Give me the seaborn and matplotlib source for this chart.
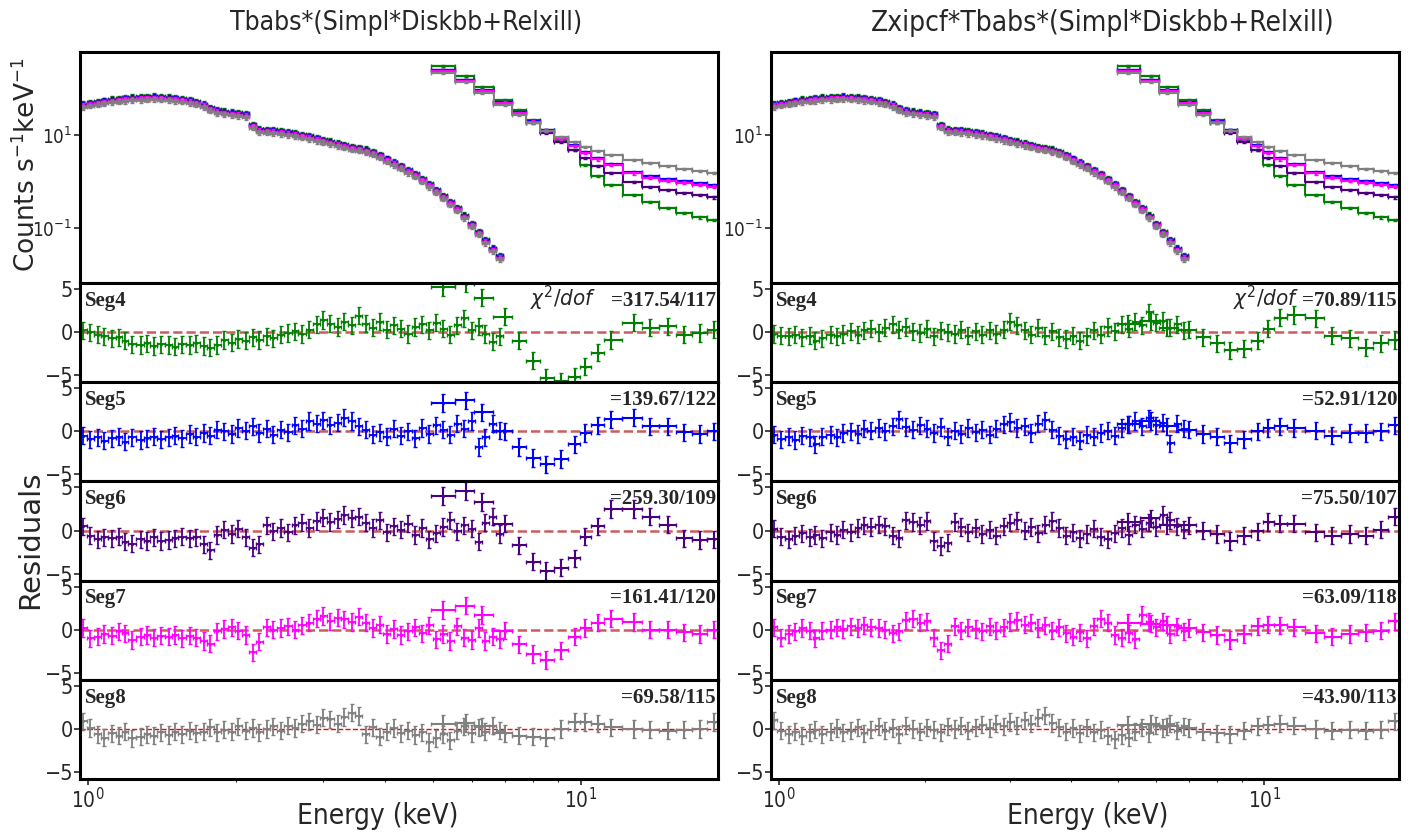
import numpy as np
import matplotlib
matplotlib.use("Agg")
import matplotlib.pyplot as plt
import seaborn as sns
from matplotlib import font_manager

# ---- data ----
segs = ["Seg4", "Seg5", "Seg6", "Seg7", "Seg8"]
colors = ["green", "blue", "indigo", "magenta", "gray"]
titles = ["Tbabs*(Simpl*Diskbb+Relxill)", "Zxipcf*Tbabs*(Simpl*Diskbb+Relxill)"]
chi_left = ["317.54/117", "139.67/122", "259.30/109", "161.41/120", "69.58/115"]
chi_right = ["70.89/115", "52.91/120", "75.50/107", "63.09/118", "43.90/113"]

# soft band energies (keV)
e_low = [0.98, 1.01, 1.05, 1.08, 1.12, 1.16, 1.19, 1.23, 1.28, 1.32,
         1.36, 1.41, 1.46, 1.50, 1.55, 1.61, 1.66, 1.72, 1.77, 1.83,
         1.89, 1.96, 2.02, 2.09, 2.16, 2.23, 2.31, 2.38, 2.46, 2.55,
         2.63, 2.72, 2.81, 2.91, 3.00, 3.10, 3.21, 3.31, 3.43, 3.54,
         3.66, 3.78, 3.91, 4.04, 4.17, 4.31, 4.46, 4.61, 4.76, 4.92,
         5.09, 5.26, 5.43, 5.61, 5.80, 6.00, 6.20, 6.40, 6.62, 6.84]
# hard band energies (keV)
e_high = [5.25, 5.85, 6.3, 7.0, 7.5, 8.0, 8.5, 9.1, 9.7, 10.2,
          10.8, 11.5, 12.8, 13.8, 15.0, 16.2, 17.4, 18.6]

# soft band count rate (counts/s/keV) and per-segment normalisation
rate_low = [44, 47, 50, 53, 56, 58, 60, 62, 63, 64.5,
            65, 64, 62, 60, 58, 54, 50, 44, 37, 33,
            31, 29.5, 28.5, 27, 16, 12.8, 12.5, 12.2, 11.7, 11.1,
            10.5, 9.8, 9.1, 8.3, 7.6, 7.0, 6.4, 5.9, 5.4, 5.1,
            4.7, 4.2, 3.6, 3.0, 2.5, 2.1, 1.7, 1.4, 1.1, 0.85,
            0.64, 0.48, 0.35, 0.26, 0.18, 0.12, 0.08, 0.053, 0.035, 0.024]
low_norm = [1.08, 1.03, 1.0, 0.97, 0.9]

# hard band count rate per segment
hi_seg4 = [303, 186, 108, 56, 35, 21, 12.8, 7.8, 4.8, 2.26, 1.31, 0.84, 0.51, 0.36, 0.27, 0.21, 0.17, 0.15]
hi_seg5 = [251, 152, 93, 51, 31, 20, 12.8, 8.6, 6.1, 4.3, 3.2, 2.4, 1.6, 1.31, 1.13, 1.03, 0.93, 0.84]
hi_seg6 = [251, 152, 88, 49, 29.6, 18, 11, 7.1, 4.8, 3.2, 2.15, 1.52, 0.98, 0.76, 0.66, 0.57, 0.51, 0.46]
hi_seg7 = [240, 145, 90, 50, 30, 19.5, 12.5, 8.3, 5.8, 4.1, 3.0, 2.25, 1.5, 1.22, 1.05, 0.95, 0.86, 0.78]
hi_seg8 = [215, 138, 80, 44, 27, 18, 12.2, 9.1, 7.1, 5.5, 4.5, 3.7, 2.9, 2.5, 2.15, 1.86, 1.68, 1.52]

# residuals, model 1 (left column)
resA_low_seg4 = [0.2, 0.0, -0.3, -0.5, -0.7, -0.6, -1.0, -1.4, -1.5, -1.3, -1.6, -1.4, -1.5, -1.7, -1.4,
                 -1.5, -1.3, -1.6, -1.8, -1.5, -0.9, -1.2, -0.8, -1.0, -0.6, -0.9, -0.5, -0.7, -0.3, -0.1,
                 0.1, -0.2, 0.3, 0.9, 1.4, 1.0, 0.6, 1.2, 0.8, 1.9, 1.0, 0.5, 1.2, 0.3, 0.8,
                 0.4, -0.2, 0.6, 0.9, 0.2, 1.1, 0.4, -0.3, 0.8, 1.6, 0.2, 0.7, -0.2, -1.1, -0.5]
resA_low_seg5 = [-0.5, -0.9, -0.7, -1.1, -0.8, -0.6, -1.2, -0.7, -1.0, -0.8, -0.6, -0.9, -0.7, -0.5, -0.8,
                 -0.3, -0.6, -0.2, -0.5, 0.2, 0.0, -0.3, 0.4, 0.1, 0.6, -0.2, 0.3, -0.4, 0.2, -0.1,
                 0.7, 0.3, 1.2, 0.9, 1.3, 0.7, 1.0, 1.6, 1.2, 0.6, 0.2, -0.4, -0.1, -0.6, 0.3,
                 -0.5, 0.0, -0.8, 0.4, -0.3, 0.7, 0.2, -0.4, 0.9, 0.3, 1.2, -1.8, -0.7, 0.9, 0.1]
resA_low_seg6 = [0.5, -0.6, -1.0, -0.8, -0.9, -0.7, -1.3, -1.5, -1.0, -1.2, -0.8, -1.2, -1.1, -0.9, -0.7,
                 -0.9, -0.8, -1.6, -2.3, -0.5, 0.1, -0.4, 0.2, -0.8, -2.0, -1.6, 0.6, -0.1, 0.3, -0.2,
                 0.6, 0.9, 0.3, 1.1, 1.5, 1.0, 1.3, 1.8, 1.4, 1.6, 0.9, 0.3, 1.2, -0.2, 0.5,
                 0.1, 0.8, -0.5, 0.3, -1.0, -0.3, 0.4, 1.2, -0.1, 0.6, 0.2, -1.3, 0.9, 1.6, -0.4]
resA_low_seg7 = [0.2, -1.0, -0.8, -0.5, -0.7, -0.2, -0.4, -1.2, -0.8, -0.6, -0.9, -0.7, -0.8, -0.6, -1.0,
                 -0.7, -0.9, -1.3, -1.6, -0.2, 0.1, 0.3, -0.1, -0.6, -2.6, -1.4, 0.3, 0.0, 0.2, 0.4,
                 0.0, 0.5, 0.8, 1.3, 1.6, 1.0, 1.4, 1.2, 0.9, 1.5, 0.8, 0.2, 0.6, -0.5, 0.1,
                 -0.6, -0.2, 0.3, -0.4, 0.5, -1.1, -0.5, -1.3, 0.4, -0.9, -1.2, 0.2, -1.3, -0.8, -1.1]
resA_low_seg8 = [0.9, 0.1, -0.6, -1.0, -0.5, -0.8, -0.3, -1.1, -0.9, -0.6, -0.8, -0.4, -0.7, -0.3, -0.6,
                 -0.2, -0.5, -0.3, 0.2, -0.4, -0.1, -0.3, 0.3, -0.2, 0.1, -0.4, 0.0, 0.3, -0.2, 0.4,
                 0.1, 0.6, 0.9, 0.5, 1.3, 1.1, 0.6, 1.4, 1.9, 1.5, -0.6, 0.2, -0.9, -0.3, 0.1,
                 -0.5, -0.2, -0.7, -0.4, -1.5, -1.1, -0.6, -1.3, -0.2, 0.3, -0.5, 0.2, -0.3, 0.4, -0.2]
resA_high_seg4 = [5.2, 5.6, 4.0, 1.8, -1.0, -3.3, -5.3, -5.7, -5.2, -4.0, -2.4, -0.9, 1.1, 0.5, 0.7, -0.3, -0.1, 0.3]
resA_high_seg5 = [3.3, 3.6, 2.2, 0.0, -1.8, -3.1, -3.8, -3.2, -1.5, -0.2, 0.7, 1.4, 1.6, 0.6, 0.6, -0.1, -0.3, 0.0]
resA_high_seg6 = [4.0, 4.6, 3.3, 0.8, -1.7, -3.6, -4.7, -4.3, -3.2, -0.7, 0.5, 2.5, 2.5, 1.6, 0.7, -0.9, -1.1, -1.0]
resA_high_seg7 = [2.3, 2.8, 1.7, -0.1, -1.7, -2.8, -3.5, -2.4, -0.8, 0.2, 0.8, 1.3, 0.9, 0.0, 0.0, -0.3, -0.5, 0.0]
resA_high_seg8 = [0.6, 0.7, 0.3, -0.5, -0.8, -0.9, -1.0, 0.0, 0.8, 0.8, 0.6, 0.2, 0.0, -0.1, -0.2, -0.1, 0.0, 0.8]

# residuals, model 2 (right column)
resB_low_seg4 = [-0.2, -0.4, -0.5, -0.3, -0.6, -0.4, -1.0, -0.7, -0.3, -0.5, -0.2, 0.1, -0.3, 0.2, 0.4,
                 0.0, 0.5, 0.9, 0.3, 0.6, 0.1, -0.1, 0.4, -0.5, 0.2, 0.0, -0.2, 0.3, -0.4, 0.1,
                 -0.3, 0.2, -0.2, 0.3, 1.2, 0.8, 0.2, -0.3, 0.5, -0.4, 0.1, -0.6, -0.8, -0.4, -1.0,
                 -0.5, 0.2, -0.3, 0.6, 0.1, 0.9, 0.4, 1.2, 0.8, 2.3, 1.1, 1.3, 0.5, 0.9, 0.2]
resB_low_seg5 = [-0.4, -0.9, -0.6, -1.0, -0.5, -0.7, -1.5, -0.6, -0.4, -0.7, -0.2, 0.0, -0.3, 0.3, 0.1,
                 0.4, 0.0, 0.6, 1.4, 0.5, 0.2, 0.7, 0.3, -0.2, 0.5, -0.6, 0.1, -0.3, 0.4, -0.1,
                 0.2, -0.4, 0.3, 0.8, 1.1, 0.4, 0.6, -0.2, 0.9, 1.3, 0.2, -0.5, -0.9, -0.6, -1.1,
                 -0.4, -0.6, -0.2, 0.1, -0.5, 0.4, 0.8, 1.2, 0.6, 1.5, 0.7, 1.0, -1.4, 0.9, 0.3]
resB_low_seg6 = [0.2, -0.7, -1.0, -0.6, -0.3, -0.8, -0.5, -0.9, -0.2, -0.5, 0.1, -0.2, 0.3, 0.6, 0.4,
                 0.7, 0.5, -0.6, -0.9, 1.2, 1.0, 0.6, 1.1, -1.2, -1.8, -1.4, 1.0, 0.4, -0.2, 0.3,
                 -0.4, 0.1, -0.6, 0.5, 0.9, 1.2, 0.0, 0.4, -0.3, 0.7, 1.1, 0.3, -0.6, -0.2, -0.9,
                 -0.4, 0.2, -0.7, -1.0, -0.3, 0.3, -0.5, 0.7, 0.2, 0.9, 0.4, 1.8, 1.2, 0.5, 0.1]
resB_low_seg7 = [0.3, -0.9, -0.5, -0.2, 0.2, -0.1, -1.0, -0.1, 0.0, 0.3, 0.1, 0.4, 0.2, 0.5, 0.3,
                 0.2, 0.0, -0.4, -0.2, 1.1, 1.3, 0.8, 1.0, -0.9, -2.4, -1.6, 0.4, -0.1, 0.3, 0.1,
                 -0.2, 0.4, -0.1, 0.3, 0.9, 1.1, 0.6, 0.8, 0.2, 0.5, -0.1, 0.3, -0.4, -0.8, -0.3,
                 -1.0, 0.4, 1.3, 0.8, -0.6, -0.9, -0.4, -1.1, 1.7, 0.9, 0.3, 1.0, -0.5, 0.4, -0.2]
resB_low_seg8 = [1.0, -0.2, -0.6, -0.3, -0.8, -0.4, -0.1, -0.6, -0.3, 0.1, -0.4, -0.2, 0.2, -0.5, -0.1,
                 0.3, -0.2, 0.1, -0.6, 0.4, 0.0, -0.3, 0.2, -0.1, -0.4, 0.3, 0.0, 0.4, -0.2, 0.2,
                 0.5, 0.1, 0.6, 0.3, 0.8, 0.4, 1.0, 0.6, 1.3, 1.6, 0.7, 0.2, -0.3, 0.1, -0.5,
                 0.2, -0.4, -0.1, -0.8, -1.2, -0.7, -1.0, -0.3, 0.2, -0.5, 0.4, 0.1, 0.6, -0.2, 0.3]
resB_high_seg4 = [1.0, 1.3, 0.5, 0.3, -0.6, -1.3, -2.1, -1.9, -1.0, 0.4, 1.7, 2.0, 1.6, -0.4, -0.7, -1.8, -1.3, -0.9]
resB_high_seg5 = [0.8, 1.2, 0.6, 0.2, -0.3, -0.6, -1.4, -0.9, 0.0, 0.4, 0.6, 0.4, 0.1, -0.5, -0.2, -0.2, 0.0, 0.7]
resB_high_seg6 = [1.0, 1.4, 0.6, 0.6, 0.0, -0.4, -1.2, -0.6, -0.1, 1.0, 0.8, 0.8, -0.2, -0.6, -0.4, -0.6, 0.1, 1.6]
resB_high_seg7 = [0.8, 0.7, 0.6, 0.2, -0.3, -0.6, -1.2, -0.5, 0.4, 0.6, 0.5, 0.3, -0.4, -0.8, -0.5, -0.3, -0.1, 1.0]
resB_high_seg8 = [0.5, 0.6, 0.3, 0.1, -0.3, -0.5, -0.6, -0.2, 0.3, 0.5, 0.6, 0.4, 0.0, -0.2, -0.1, -0.2, -0.1, 0.9]

hi_rates = [hi_seg4, hi_seg5, hi_seg6, hi_seg7, hi_seg8]
res_low = [[resA_low_seg4, resA_low_seg5, resA_low_seg6, resA_low_seg7, resA_low_seg8],
           [resB_low_seg4, resB_low_seg5, resB_low_seg6, resB_low_seg7, resB_low_seg8]]
res_high = [[resA_high_seg4, resA_high_seg5, resA_high_seg6, resA_high_seg7, resA_high_seg8],
            [resB_high_seg4, resB_high_seg5, resB_high_seg6, resB_high_seg7, resB_high_seg8]]
chis = [chi_left, chi_right]

# ---- style ----
sns.set_style("ticks")


def find_face(keys):
    # first regular sans face whose file name holds one of the keys
    for key in keys:
        for f in font_manager.fontManager.ttflist:
            fn = f.fname.split("/")[-1]
            if key in fn and f.style == "normal" and f.weight in (400, "normal", "regular") \
                    and "Serif" not in fn and "Mono" not in fn:
                return f
    return None


cond = find_face(["LiberationSansNarrow-Regular", "DejaVuSansCondensed.", "NotoSans-Condensed.",
                  "NotoSans-SemiCondensed.", "Narrow", "Condensed"])
xcond = find_face(["NotoSans-ExtraCondensed.", "LiberationSansNarrow-Regular",
                   "NotoSans-Condensed.", "DejaVuSansCondensed.", "Narrow", "Condensed"])

if cond is not None:
    nfam, nstretch = cond.name, cond.stretch
else:
    nfam, nstretch = "Liberation Sans", "normal"
big_fp = font_manager.FontProperties(fname=xcond.fname) if xcond is not None else \
    font_manager.FontProperties(family="Liberation Sans")

plt.rcParams["font.family"] = [nfam, "DejaVu Sans"]
plt.rcParams["font.stretch"] = nstretch
plt.rcParams["mathtext.fontset"] = "custom"
plt.rcParams["mathtext.rm"] = f"{nfam}:stretch={nstretch}"
plt.rcParams["mathtext.it"] = f"{nfam}:italic:stretch={nstretch}"
plt.rcParams["mathtext.bf"] = f"{nfam}:bold:stretch={nstretch}"
plt.rcParams["axes.linewidth"] = 2.2
plt.rcParams["axes.edgecolor"] = "black"


def half_widths(e):
    le = np.log10(e)
    mid = (le[1:] + le[:-1]) / 2
    lo = np.r_[2 * le[0] - mid[0], mid]
    hi = np.r_[mid, 2 * le[-1] - mid[-1]]
    return np.vstack([e - 10 ** lo, 10 ** hi - e])


elo = np.array(e_low)
ehi = np.array(e_high)
xerr_lo = half_widths(elo)
xerr_hi = half_widths(ehi)

W, H = 1421, 838
fig = plt.figure(figsize=(W / 100, H / 100), dpi=100)
cols = [(80, 638), (771, 628)]
xlim = (0.965, 18.95)
top_px, spec_bot, res_px = 52, 283, 99.2

fitted = []  # (text, target width px)

for c, (x0, w) in enumerate(cols):
    ax = fig.add_axes([x0 / W, 1 - spec_bot / H, w / W, (spec_bot - top_px) / H])
    for k in range(5):
        low = np.array(rate_low) * low_norm[k]
        ax.errorbar(elo, low, xerr=xerr_lo, yerr=0.12 * low, fmt="none",
                    ecolor=colors[k], elinewidth=1.8, capsize=1.5)
        hi = np.array(hi_rates[k])
        ax.errorbar(ehi, hi, xerr=xerr_hi, yerr=0.06 * hi, fmt="none",
                    ecolor=colors[k], elinewidth=1.6, capsize=1.3)
        sns.lineplot(x=ehi, y=hi, drawstyle="steps-mid", color=colors[k],
                     lw=1.4, ax=ax, legend=False)
    ax.set_xscale("log")
    ax.set_yscale("log")
    ax.set_xlim(*xlim)
    ax.set_ylim(0.0066, 610)
    ax.set_yticks([0.1, 10])
    ax.yaxis.set_minor_locator(matplotlib.ticker.NullLocator())
    ax.tick_params(axis="y", labelsize=13.5, length=4, width=1.2, direction="out", pad=2)
    ax.tick_params(axis="x", which="both", labelbottom=False, length=0)

    tx = [406, 1103][c]
    t = fig.text(tx / W, 1 - 23 / H, titles[c], ha="center", va="center",
                 fontproperties=big_fp, fontsize=24)
    fitted.append((t, [355, 465][c]))

    for k in range(5):
        y1 = spec_bot + (k + 1) * res_px
        r = fig.add_axes([x0 / W, 1 - y1 / H, w / W, res_px / H])
        if k == 4:
            r.axhline(0, ls="--", color="red", lw=1.0, zorder=1)
        else:
            r.axhline(0, ls="--", color="indianred", lw=1.8, zorder=1)
        r.errorbar(elo, res_low[c][k], xerr=xerr_lo, yerr=1, fmt=".", ms=2.5,
                   color=colors[k], elinewidth=1.3, capsize=1.5, zorder=2)
        r.errorbar(ehi, res_high[c][k], xerr=xerr_hi, yerr=1, fmt=".", ms=2.5,
                   color=colors[k], elinewidth=1.5, capsize=1.5, zorder=2)
        r.set_xscale("log")
        r.set_xlim(*xlim)
        r.set_ylim(-5.8, 5.7)
        r.set_yticks([-5, 0, 5])
        r.tick_params(axis="y", labelsize=15.5, length=4, width=1.2, pad=1)
        r.text(0.008, 0.77, segs[k], transform=r.transAxes, ha="left", va="baseline",
               family=["Liberation Serif"], fontweight="bold", fontsize=15)
        r.text(0.997, 0.77, "=" + chis[c][k], transform=r.transAxes, ha="right", va="baseline",
               family=["Liberation Serif"], fontweight="bold", fontsize=15)
        if k == 0:
            xc = 0.81 if c == 0 else 0.842
            r.text(xc, 0.77, r"$\chi^{2}/dof$", transform=r.transAxes, ha="right",
                   va="baseline", fontsize=16)
        if k < 4:
            r.tick_params(axis="x", which="both", labelbottom=False, length=0)
        else:
            r.tick_params(axis="x", which="major", labelsize=15, length=4, width=1.2, pad=2)
            r.tick_params(axis="x", which="minor", length=2.5, width=0.8)
            r.xaxis.set_minor_formatter(matplotlib.ticker.NullFormatter())
            ex = [378, 1088][c]
            t = fig.text(ex / W, 1 - 816 / H, "Energy (keV)", ha="center", va="center",
                         fontproperties=big_fp, fontsize=25)
            fitted.append((t, 162))

fig.text(0.019, 1 - 165 / H, r"Counts s$^{-1}$keV$^{-1}$", rotation=90, ha="center",
         va="center", fontsize=19, family=["DejaVu Sans"], stretch="normal")
fig.text(0.021, 1 - 540 / H, "Residuals", rotation=90, ha="center", va="center",
         fontsize=21, family=["DejaVu Sans"], stretch="normal")

# scale the condensed labels so that their widths match the original
renderer = fig.canvas.get_renderer()
for t, target in fitted:
    width = t.get_window_extent(renderer).width
    t.set_fontsize(t.get_fontsize() * target / width)

fig.savefig("out.png", dpi=100)
